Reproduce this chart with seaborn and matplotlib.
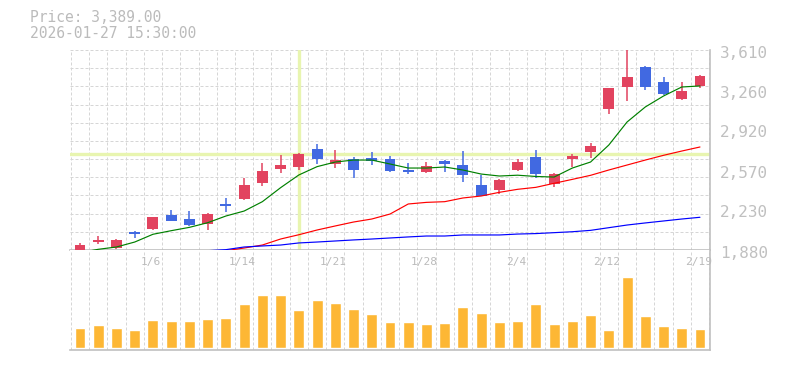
import numpy as np
import pandas as pd
import matplotlib
matplotlib.use("Agg")
import matplotlib.pyplot as plt
import matplotlib.transforms as mtransforms
import seaborn as sns

# ---------------- data ----------------
dates = ["12/26", "12/29", "12/30", "1/5", "1/6", "1/7", "1/8", "1/9", "1/13", "1/14",
         "1/15", "1/16", "1/19", "1/20", "1/21", "1/22", "1/23", "1/26", "1/27", "1/28",
         "1/29", "1/30", "2/2", "2/3", "2/4", "2/5", "2/6", "2/9", "2/10", "2/12",
         "2/13", "2/16", "2/17", "2/18", "2/19"]
tick_labels = ["1/6", "1/14", "1/21", "1/28", "2/4", "2/12", "2/19"]

opens  = [1872, 1949, 1897, 2036, 2062, 2183, 2148, 2105, 2278, 2321,
          2460, 2581, 2598, 2754, 2624, 2667, 2676, 2667, 2572, 2555,
          2650, 2615, 2442, 2399, 2572, 2685, 2451, 2667, 2728, 3100,
          3290, 3463, 3333, 3186, 3299]
highs  = [1940, 2001, 1975, 2044, 2168, 2226, 2217, 2200, 2330, 2503,
          2633, 2702, 2719, 2797, 2745, 2685, 2728, 2693, 2633, 2641,
          2659, 2736, 2529, 2494, 2667, 2745, 2546, 2710, 2806, 3283,
          3610, 3472, 3377, 3333, 3394]
lows   = [1870, 1932, 1889, 1984, 2053, 2128, 2088, 2053, 2209, 2313,
          2434, 2546, 2572, 2624, 2589, 2503, 2615, 2555, 2537, 2546,
          2555, 2468, 2347, 2364, 2563, 2503, 2425, 2598, 2676, 3056,
          3169, 3264, 3221, 3178, 3281]
closes = [1923, 1967, 1967, 2018, 2166, 2131, 2096, 2191, 2261, 2442,
          2563, 2615, 2710, 2667, 2659, 2572, 2650, 2563, 2555, 2607,
          2624, 2529, 2347, 2486, 2641, 2537, 2537, 2693, 2780, 3281,
          3377, 3290, 3229, 3255, 3389]

ma_short = [1857, 1886, 1906, 1949, 2016, 2047, 2076, 2116, 2174, 2217,
            2298, 2419, 2529, 2601, 2641, 2658, 2658, 2624, 2589, 2589,
            2598, 2572, 2537, 2520, 2527, 2516, 2511, 2589, 2641, 2788,
            2987, 3117, 3212, 3290, 3299]
ma_mid = [np.nan] * 7 + [1850, 1874, 1897, 1923, 1975, 2012, 2053, 2088, 2122, 2148,
                         2191, 2278, 2292, 2298, 2330, 2347, 2379, 2405, 2422, 2457,
                         2491, 2526, 2572, 2615, 2658, 2699, 2736, 2771]
ma_long = [np.nan] * 6 + [1860, 1874, 1883, 1906, 1915, 1923, 1941, 1949, 1958, 1967,
                          1975, 1984, 1993, 2001, 2001, 2010, 2010, 2010, 2018, 2022,
                          2030, 2038, 2050, 2073, 2096, 2114, 2131, 2148, 2163]

volumes = [60, 69, 60, 54, 84, 81, 81, 87, 90, 132,
           159, 159, 114, 144, 135, 117, 102, 78, 78, 72,
           75, 123, 105, 78, 81, 132, 72, 81, 99, 54,
           213, 96, 66, 60, 57]

y_tick_vals = [1880, 2230, 2570, 2920, 3260, 3610]
y_tick_labels = ["1,880", "2,230", "2,570", "2,920", "3,260", "3,610"]
y_min, y_max = 1880, 3610
cross_date = "1/19"
cross_y = 2708
title_lines = ["Price: 3,389.00", "2026-01-27 15:30:00"]

# ---------------- styling ----------------
sns.set_theme(style="white")
plt.rcParams["font.family"] = ["DejaVu Sans Mono", "DejaVu Sans"]

UP = "#e2435f"
DOWN = "#4169e1"
GRID = "#d6d6d6"
AXC = "#c0c0c0"
TXT = "#bbbbbb"
VOL = "#fdb735"
CROSS = "#e8f5b0"

W, H = 785, 370
fig = plt.figure(figsize=(W / 100, H / 100), dpi=100)
fig.patch.set_facecolor("white")

L, R = 70 / W, 710 / W
ax = fig.add_axes([L, 1 - 250 / H, R - L, 200 / H])
axv = fig.add_axes([L, 1 - 350 / H, R - L, 100 / H])

n = len(closes)
x = np.arange(n)
xlim = (-0.55, n - 1 + 0.55)
tick_idx = [dates.index(t) for t in tick_labels]
cross_x = dates.index(cross_date)

df = pd.DataFrame({"x": x, "open": opens, "high": highs, "low": lows,
                   "close": closes, "short": ma_short, "mid": ma_mid,
                   "long": ma_long, "vol": volumes})
df["up"] = df["close"] >= df["open"]

dash = (0, (3, 2))
lwpx = 0.72

for a in (ax, axv):
    a.set_facecolor("white")
    a.set_xlim(*xlim)
    for s in a.spines.values():
        s.set_visible(False)
    a.tick_params(left=False, bottom=False, right=False, top=False,
                  labelleft=False, labelbottom=False)
    for gx in np.arange(0, n + 1) - 0.5:
        a.axvline(gx, color=GRID, lw=lwpx, ls=dash, zorder=0)

# main price panel
ax.set_ylim(y_min, y_max)
for gy in np.linspace(y_min, y_max, 12)[1:]:
    ax.axhline(gy, color=GRID, lw=lwpx, ls=dash, zorder=0)
ax.spines["right"].set_visible(True)
ax.spines["bottom"].set_visible(True)
for s in ("right", "bottom"):
    ax.spines[s].set_color(AXC)
    ax.spines[s].set_linewidth(1.2)

# crosshair
ax.axvline(cross_x, color=CROSS, lw=2.4, zorder=1)
ax.axhline(cross_y, color=CROSS, lw=2.4, zorder=1)

# candles
body_w = 0.6
for _, r in df.iterrows():
    c = UP if r["up"] else DOWN
    ax.vlines(r["x"], r["low"], r["high"], color=c, lw=1.1, zorder=3)
    lo = min(r["open"], r["close"])
    hgt = max(abs(r["close"] - r["open"]), 12)
    ax.bar(r["x"], hgt, bottom=lo, width=body_w, color=c, zorder=4, linewidth=0)

# moving averages
sns.lineplot(data=df, x="x", y="short", ax=ax, color="#008000", lw=0.85, zorder=5)
sns.lineplot(data=df, x="x", y="mid", ax=ax, color="#ff0000", lw=0.85, zorder=5)
sns.lineplot(data=df, x="x", y="long", ax=ax, color="#0000ff", lw=0.85, zorder=5)
ax.set_xlim(*xlim)
ax.set_ylim(y_min, y_max)
ax.set_xlabel("")
ax.set_ylabel("")

# right tick labels
off = mtransforms.offset_copy(ax.transData, fig=fig, x=0, y=-3, units="dots")
blend = mtransforms.blended_transform_factory(ax.transAxes, off)
for v, lab in zip(y_tick_vals, y_tick_labels):
    ax.text(1.0 + 10 / (R - L) / W, v, lab, transform=blend, ha="left", va="center",
            color=AXC, fontsize=11.5, clip_on=False)

# volume panel
sns.barplot(data=df, x="x", y="vol", ax=axv, color=VOL, width=0.6,
            native_scale=True, saturation=1, zorder=2)
axv.set_xlim(*xlim)
axv.set_ylim(-7, 293)
axv.set_xlabel("")
axv.set_ylabel("")
axv.spines["right"].set_visible(True)
axv.spines["bottom"].set_visible(True)
for s in ("right", "bottom"):
    axv.spines[s].set_color(AXC)
    axv.spines[s].set_linewidth(1.2)
axv.tick_params(left=False, bottom=False, labelleft=False, labelbottom=False)

# date labels at top of volume panel
tb = mtransforms.blended_transform_factory(axv.transData, axv.transAxes)
for i, lab in zip(tick_idx, tick_labels):
    axv.text(i - 0.1, 0.88, lab, transform=tb, ha="center", va="center",
             color=TXT, fontsize=8, clip_on=False)

# header text
fig.text(30 / W, 1 - 18 / H, title_lines[0], ha="left", va="center",
         color=TXT, fontsize=10.5)
fig.text(30 / W, 1 - 33 / H, title_lines[1], ha="left", va="center",
         color=TXT, fontsize=10.5)

fig.savefig("out.png", dpi=100, facecolor="white")
